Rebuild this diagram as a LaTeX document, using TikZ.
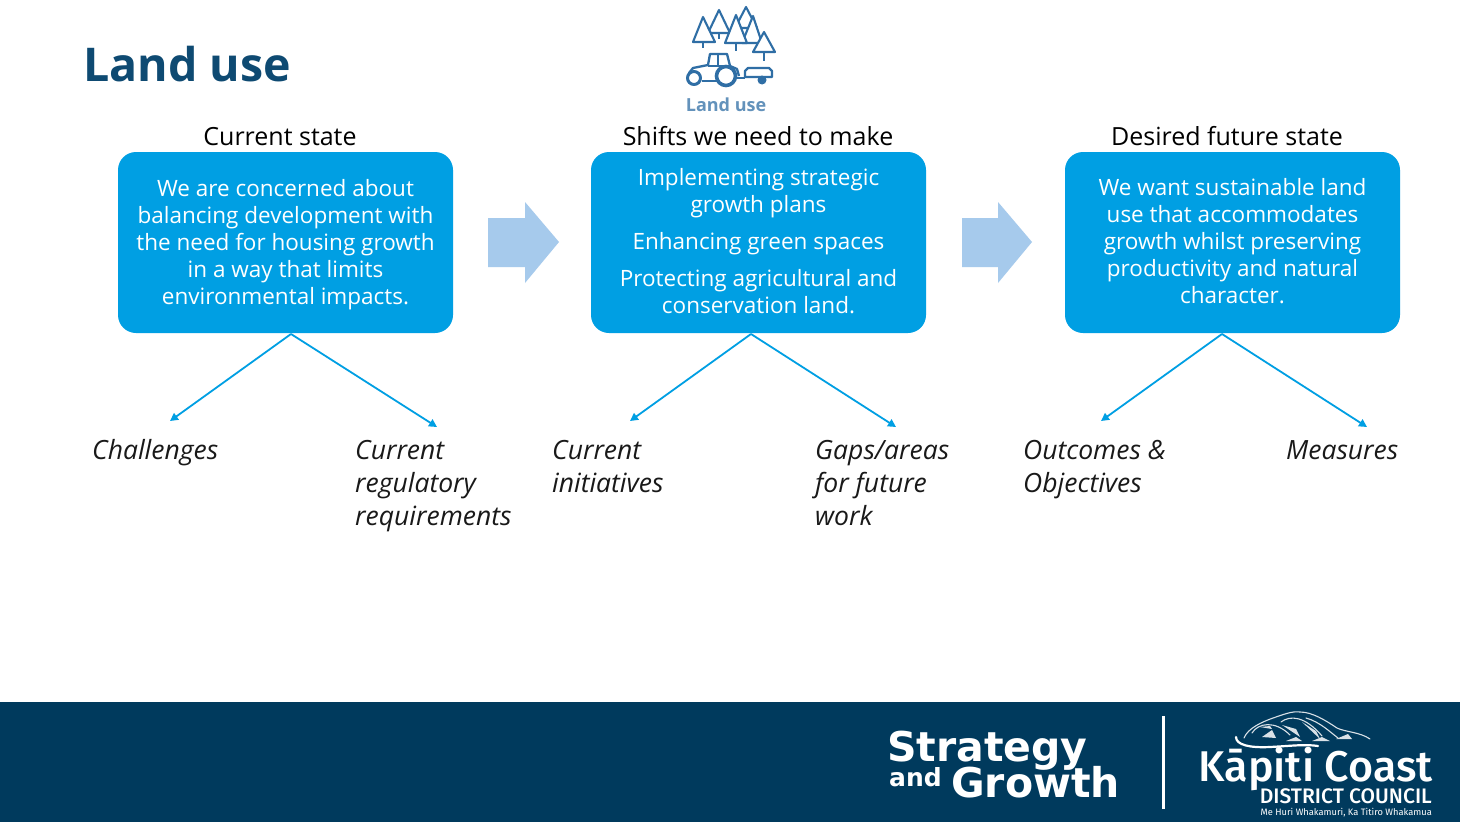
\documentclass[tikz,border=0pt]{standalone}
\usepackage{fontspec}
\setmainfont{Open Sans}
\newfontfamily\heros{DejaVu Sans}
\newfontfamily\fira{Fira Sans Medium}
\newfontfamily\firar{Fira Sans}
\usetikzlibrary{arrows.meta}
\definecolor{boxblue}{HTML}{009FE3}
\definecolor{navy}{HTML}{003A5D}
\definecolor{titleblue}{HTML}{0E4A72}
\definecolor{shift}{HTML}{A6CAEC}
\definecolor{iconblue}{HTML}{2F6EA5}
\tikzset{
  x=1pt,y=-1pt,
  statebox/.style={fill=boxblue,rounded corners=18pt,minimum width=335pt,minimum height=181pt,inner sep=0pt},
  boxtext/.style={text=white,align=center,inner sep=0pt,font=\fontsize{22.5}{27}\selectfont},
  head/.style={font=\fontsize{25}{29}\selectfont,text=black,inner sep=0pt},
  lab/.style={font=\fontsize{26.5}{33}\selectfont\itshape,align=left,anchor=north west,inner sep=0pt,text=black!90},
  link/.style={draw=boxblue,line width=1.8pt,-{Triangle[length=8pt,width=8pt]}},
  shiftarrow/.style={fill=shift,draw=none},
  tree/.style={draw=iconblue,line width=2.1pt,fill=white,line join=round},
  ic/.style={draw=iconblue,line width=2.3pt,line join=round},
  wh/.style={draw=white!85!navy,line width=1.1pt,line cap=round},
  tri/.style={fill=white!85!navy},
}
\begin{document}
\begin{tikzpicture}
\useasboundingbox (0,0) rectangle (1460,822);
\fill[white] (0,0) rectangle (1460,822);
\fill[navy] (0,702) rectangle (1460,822);
\node[anchor=base west,inner sep=0pt,text=titleblue,font=\fontsize{46.5}{56}\selectfont\bfseries] (title) at (83,81) {Land use};
% icon
\draw[tree] (746,7) -- (757,28) -- (735,28) -- cycle;
\draw[tree] (753,16) -- (762,43) -- (742,43) -- cycle;
\draw[ic] (719,33) -- (719,39);
\draw[tree] (719,10) -- (730,33) -- (708,33) -- cycle;
\draw[ic] (703,42) -- (703,48);
\draw[tree] (703,17) -- (715,42) -- (693,42) -- cycle;
\draw[ic] (736,43) -- (736,51);
\draw[tree] (736,15) -- (747,43) -- (725,43) -- cycle;
\draw[ic] (764,52) -- (764,61);
\draw[tree] (764,32) -- (775,52) -- (753,52) -- cycle;
\draw[ic] (689,73) -- (693,68) -- (708,65) -- (710,54) -- (727,54) -- (730,66) -- (737,69) -- (739,76);
\draw[ic] (708,66) -- (730,66);
\draw[ic] (718,55) -- (718,66);
\draw[ic] (702,81) -- (717,81);
\draw[ic,fill=white,line width=3pt] (694,78) circle (6.5pt);
\draw[ic,fill=white,line width=3.6pt] (726,76) circle (9.5pt);
\draw[ic] (737,78) -- (745,78);
\draw[ic] (745,71) -- (748,68) -- (769,68) -- (772,71) -- (772,77) -- (745,77) -- cycle;
\fill[iconblue] (762,80) circle (4.5pt);
\node[inner sep=0pt,text=iconblue!75,font=\fontsize{18}{18}\selectfont\bfseries] (iconlabel) at (726,105) {Land use};
% headers
\node[head] (h1) at (280,137) {Current state};
\node[head] (h2) at (758,136) {Shifts we need to make};
\node[head] (h3) at (1227,136) {Desired future state};
% boxes
\node[statebox] (b1) at (285.5,242.5) {};
\node[statebox] (b2) at (758.5,242.5) {};
\node[statebox] (b3) at (1232.5,242.5) {};
\node[boxtext] (t1) at (285.5,244.5) {We are concerned about\\balancing development with\\the need for housing growth\\in a way that limits\\environmental impacts.};
\node[boxtext] (t2) at (758.5,241.2) {Implementing strategic\\growth plans\\[10pt]Enhancing green spaces\\[10pt]Protecting agricultural and\\conservation land.};
\node[boxtext] (t3) at (1232.5,241.5) {We want sustainable land\\use that accommodates\\growth whilst preserving\\productivity and natural\\character.};
% shift arrows
\path[shiftarrow] (488,218) -- (525,218) -- (525,202) -- (559,242) -- (525,283) -- (525,267) -- (488,267) -- cycle;
\path[shiftarrow] (962,218) -- (998,218) -- (998,202) -- (1032,242) -- (998,283) -- (998,267) -- (962,267) -- cycle;
% labels
\node[lab] (l1) at (92,439) {Challenges};
\node[lab] (l2) at (355,440) {Current\\regulatory\\requirements};
\node[lab] (l3) at (552,440) {Current\\initiatives};
\node[lab] (l4) at (815,440) {Gaps/areas\\for future\\work};
\node[lab] (l5) at (1023,440) {Outcomes \&\\Objectives};
\node[lab] (l6) at (1286,440) {Measures};
% connectors
\coordinate (s1) at (291,334); \coordinate (s2) at (751,334); \coordinate (s3) at (1222,334);
\coordinate (e1) at (170,421); \coordinate (e2) at (437,427);
\coordinate (e3) at (630,421); \coordinate (e4) at (896,427);
\coordinate (e5) at (1101,421); \coordinate (e6) at (1367,427);
\draw[link] (s1) -- (e1); \draw[link] (s1) -- (e2);
\draw[link] (s2) -- (e3); \draw[link] (s2) -- (e4);
\draw[link] (s3) -- (e5); \draw[link] (s3) -- (e6);
% footer
\node[anchor=base west,inner sep=0pt,text=white,font=\fontsize{41}{46}\selectfont\heros\bfseries] (sg1) at (887,761) {Strategy};
\node[anchor=base west,inner sep=0pt,text=white,font=\fontsize{25}{30}\selectfont\heros\bfseries] (sg2) at (889,786) {and};
\node[anchor=base west,inner sep=0pt,text=white,font=\fontsize{41}{46}\selectfont\heros\bfseries] (sg3) at (951,797) {Growth};
\draw[white,line width=3pt] (1163,716) -- (1163,809);
\node[anchor=base east,inner sep=0pt,text=white,font=\fontsize{43}{44}\selectfont\fira] (k1) at (1433,781) {Kāpiti Coast};
\node[anchor=base east,inner sep=0pt,text=white,font=\fontsize{21}{22}\selectfont\fira] (k2) at (1432,803) {DISTRICT COUNCIL};
\node[anchor=base east,inner sep=0pt,text=white!85,font=\fontsize{9.3}{9}\selectfont\firar] (k3) at (1432,815) {Me Huri Whakamuri, Ka Titiro Whakamua};
% mountain emblem
\draw[wh] (1244,738) .. controls (1248,728) and (1262,722) .. (1273,718) .. controls (1285,714) and (1292,711) .. (1300,712) .. controls (1312,712) and (1325,720) .. (1337,728) .. controls (1345,732) and (1360,732) .. (1370,739);
\draw[white,line width=2.2pt,line cap=round] (1236,737) .. controls (1236,745) and (1250,748) .. (1270,747) .. controls (1290,746) and (1305,744) .. (1318,746);
\draw[wh] (1252,733) .. controls (1258,723) and (1275,720) .. (1290,735);
\draw[wh] (1281,722) .. controls (1290,715) and (1305,716) .. (1322,736);
\draw[wh] (1306,718) .. controls (1320,722) and (1330,732) .. (1338,738);
\fill[tri] (1262,737) -- (1272,730) -- (1276,738) -- cycle;
\fill[tri] (1282,725) -- (1296,729) -- (1300,737) -- cycle;
\fill[tri] (1302,722) -- (1316,731) -- (1320,739) -- cycle;
\fill[tri] (1260,727) -- (1270,726) -- (1272,729) -- cycle;
\fill[tri] (1286,741) -- (1296,737) -- (1302,741) -- cycle;
\fill[tri] (1312,741) -- (1322,737) -- (1330,741) -- cycle;
\fill[tri] (1336,739) -- (1348,734) -- (1352,739) -- cycle;
\end{tikzpicture}
\end{document}
